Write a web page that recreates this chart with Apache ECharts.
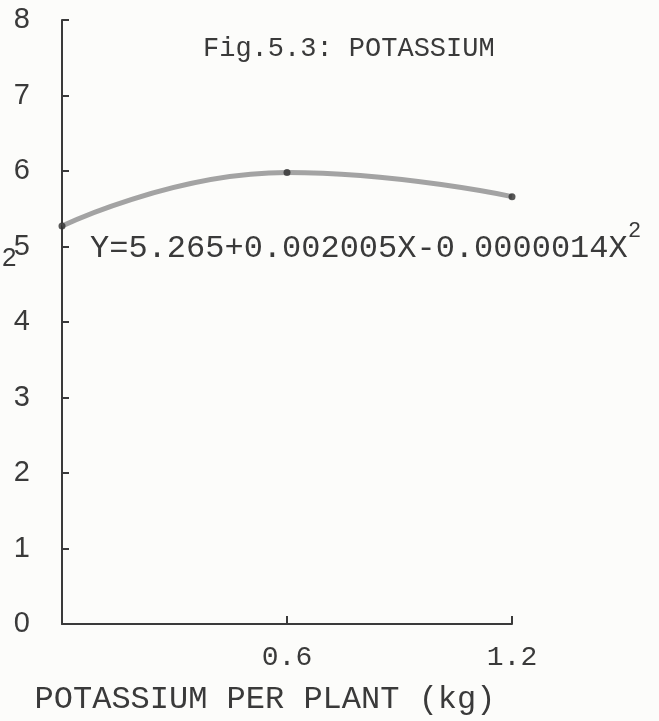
<!DOCTYPE html>
<html lang="en" style="height: 100%">
<head>
  <meta charset="utf-8">
</head>
<body style="height: 100%; margin: 0; background: #fcfcfa">
  <div id="container" style="height: 100%"></div>

  <script type="text/javascript" src="https://cdn.jsdelivr.net/npm/echarts@6/dist/echarts.min.js"></script>

  <script type="text/javascript">
    var dom = document.getElementById('container');
    var myChart = echarts.init(dom, null, { renderer: 'canvas' });

    // potassium per plant (kg) and observed yield
    const potassium = [0, 0.6, 1.2];
    const yieldValues = [5.27, 5.98, 5.66];
    const xTicks = [0, 0.6, 1.2];

    const mono = '"Liberation Mono", "DejaVu Sans Mono", monospace';
    const ink = '#3a3a3a';

    const points = potassium.map(function (k, i) {
      return [k, yieldValues[i]];
    });

    var option = {
      backgroundColor: '#fcfcfa',
      animation: false,
      title: {
        text: 'Fig.5.3: POTASSIUM',
        left: 198,
        top: 30,
        textStyle: {
          fontFamily: mono,
          fontSize: 27,
          fontWeight: 'normal',
          color: ink
        }
      },
      grid: {
        left: 62,
        right: 147,
        top: 20,
        bottom: 93
      },
      xAxis: {
        type: 'value',
        min: 0,
        max: 1.2,
        interval: 0.6,
        splitLine: { show: false },
        axisLine: { lineStyle: { color: ink, width: 2 } },
        axisTick: { inside: true, length: 8, lineStyle: { color: ink, width: 2 } },
        axisLabel: {
          margin: 20,
          fontFamily: mono,
          fontSize: 28,
          color: ink,
          formatter: function (v) {
            if (v === xTicks[0]) return '';
            return v.toFixed(1);
          }
        },
        name: 'POTASSIUM PER PLANT (kg)',
        nameLocation: 'middle',
        nameGap: 60,
        nameTextStyle: {
          fontFamily: mono,
          fontSize: 32,
          color: ink,
          padding: [0, 44, 0, 0]
        }
      },
      yAxis: {
        type: 'value',
        min: 0,
        max: 8,
        interval: 1,
        splitLine: { show: false },
        axisLine: { show: true, lineStyle: { color: ink, width: 2 } },
        axisTick: { show: true, inside: true, length: 7, lineStyle: { color: ink, width: 2 } },
        axisLabel: {
          margin: 32,
          fontFamily: '"Liberation Sans", sans-serif',
          fontSize: 29,
          color: ink
        }
      },
      series: [
        {
          type: 'line',
          data: points,
          smooth: true,
          showSymbol: false,
          lineStyle: { color: '#a3a3a3', width: 5 },
          z: 2
        },
        {
          type: 'scatter',
          data: points,
          symbolSize: 7,
          itemStyle: { color: '#2e2e2e' },
          z: 3
        }
      ],
      graphic: [
        {
          type: 'text',
          left: 90,
          top: 233,
          style: {
            text: 'Y=5.265+0.002005X-0.0000014X',
            font: '32px ' + mono,
            fill: ink
          }
        },
        {
          type: 'text',
          left: 628,
          top: 220,
          style: {
            text: '2',
            font: '22px ' + mono,
            fill: ink
          }
        },
        {
          type: 'text',
          left: 2,
          top: 246,
          style: {
            text: '2',
            font: '26px "Liberation Sans", sans-serif',
            fill: ink
          }
        }
      ]
    };

    myChart.setOption(option);
    window.addEventListener('resize', myChart.resize);
  </script>
</body>
</html>
